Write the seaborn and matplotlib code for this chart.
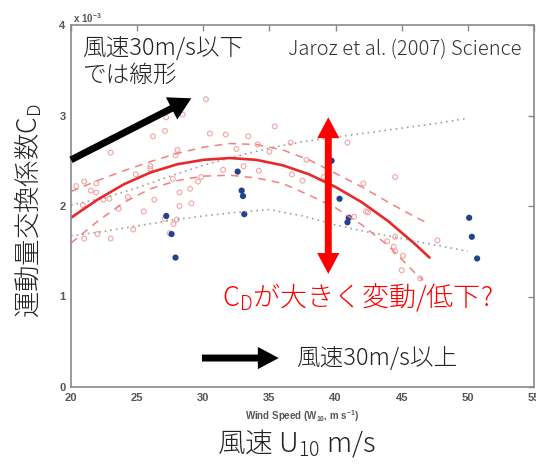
import matplotlib
matplotlib.use('Agg')
import matplotlib.pyplot as plt
import seaborn as sns
import pandas as pd

# Cd values are in units of 10^-3 (as on the axis)
red_wind = [30.2, 28.45, 27.2, 27.1, 26.2, 30.5, 31.7, 33.4,
            23.0, 28.05, 32.5, 27.9, 26.0, 26.0, 24.9, 31.5, 33.05, 34.2,
            20.4, 21.0, 21.9, 21.5, 21.9, 27.7, 29.85, 29.6, 29.0, 28.2,
            22.9, 22.45, 24.3, 26.3, 29.1, 28.2, 20.9, 23.6, 25.5, 28.0, 27.75, 24.7,
            22.0, 21.0, 23.0, 27.45, 27.1, 35.4, 34.1, 35.0, 36.6, 37.8,
            36.7, 37.5, 39.1, 40.9, 42.1, 44.5, 41.4, 42.3, 42.45, 44.5, 43.9,
            44.4, 44.5, 45.1, 45.0, 47.7, 46.4]
red_cd = [3.18, 3.01, 2.98, 2.83, 2.77, 2.80, 2.79, 2.77,
          2.59, 2.62, 2.63, 2.56, 2.44, 2.41, 2.35, 2.40, 2.44, 2.39,
          2.22, 2.27, 2.25, 2.17, 2.15, 2.30, 2.32, 2.27, 2.19, 2.15,
          2.08, 2.07, 2.10, 2.07, 2.03, 2.00, 2.01, 1.97, 1.94, 1.85, 1.80, 1.74,
          1.69, 1.64, 1.64, 1.70, 1.86, 2.88, 2.68, 2.60, 2.70, 2.51,
          2.35, 2.28, 2.32, 2.70, 2.25, 2.32, 1.88, 1.94, 1.93, 1.66, 1.61,
          1.55, 1.50, 1.45, 1.29, 1.62, 1.20]

blue_wind = [27.2, 27.6, 27.9, 32.6, 32.9, 33.0, 33.1, 39.7, 40.3, 41.0, 40.9, 50.1, 50.3, 50.7]
blue_cd = [1.89, 1.69, 1.43, 2.38, 2.17, 2.11, 1.91, 2.50, 2.08, 1.87, 1.82, 1.87, 1.66, 1.42]

# fit curve and its confidence lines
fit_wind = [20, 22, 24, 26, 28, 30, 32, 34, 36, 38, 40, 42, 44, 46, 47.1]
fit_cd = [1.87, 2.07, 2.24, 2.37, 2.46, 2.51, 2.53, 2.51, 2.45, 2.35, 2.21, 2.04, 1.83, 1.58, 1.43]
hi_wind = [20, 22, 24, 26, 28, 30, 32, 34, 36, 38, 40, 42, 44, 46, 47.1]
hi_cd = [2.16, 2.28, 2.39, 2.49, 2.58, 2.65, 2.69, 2.68, 2.62, 2.51, 2.36, 2.21, 2.04, 1.88, 1.80]
lo_wind = [20, 22, 24, 26, 28, 30, 32, 34, 36, 38, 40, 42, 44, 46, 46.6]
lo_cd = [1.59, 1.83, 2.04, 2.19, 2.28, 2.33, 2.34, 2.31, 2.25, 2.12, 1.98, 1.79, 1.56, 1.26, 1.18]

dot_wind = [20, 22.5, 25, 27.5, 30, 32.5, 35, 37.5, 40, 42.5, 45, 47.5, 50]
dot_hi_cd = [2.01, 2.09, 2.20, 2.33, 2.45, 2.55, 2.64, 2.71, 2.76, 2.81, 2.86, 2.91, 2.97]
dot_lo_cd = [1.67, 1.72, 1.78, 1.84, 1.89, 1.93, 1.96, 1.89, 1.79, 1.71, 1.64, 1.57, 1.50]

x_ticks = [20, 25, 30, 35, 40, 45, 50, 55]
y_ticks = [0, 1, 2, 3, 4]

sns.set_theme(style='white')
plt.rcParams['font.family'] = ['Noto Sans CJK JP', 'DejaVu Sans']
plt.rcParams['mathtext.default'] = 'regular'

W, H = 536, 466
fig = plt.figure(figsize=(W / 100, H / 100), dpi=100)
ax = fig.add_axes([71 / W, 1 - 387 / H, (534 - 71) / W, (387 - 25) / H])

def px(x, y):
    return x / W, 1 - y / H

gray = '#8a8a8a'

# dotted envelopes
sns.lineplot(x=dot_wind, y=dot_hi_cd, color='#a0a0a0', lw=1.2, linestyle=(0, (1, 2.4)), ax=ax)
sns.lineplot(x=dot_wind, y=dot_lo_cd, color='#a0a0a0', lw=1.2, linestyle=(0, (1, 2.4)), ax=ax)

sns.scatterplot(x=red_wind, y=red_cd, marker='o', s=12, facecolor='none',
                edgecolor='#f4a4a4', linewidth=0.8, ax=ax)

sns.lineplot(x=hi_wind, y=hi_cd, color='#f28080', lw=1.1, linestyle=(0, (5, 4)), ax=ax)
sns.lineplot(x=lo_wind, y=lo_cd, color='#f28080', lw=1.1, linestyle=(0, (5, 4)), ax=ax)
sns.lineplot(x=fit_wind, y=fit_cd, color='#e8292b', lw=1.9, ax=ax)

sns.scatterplot(x=blue_wind, y=blue_cd, marker='o', s=20, color='#23418f',
                edgecolor='none', ax=ax)

ax.set_xlim(20, 55)
ax.set_ylim(0, 4)
ax.set_xticks(x_ticks)
ax.set_yticks(y_ticks)
tick_font = dict(family=['Liberation Sans', 'DejaVu Sans'], weight='bold', size=8)
ax.set_xticklabels([str(t) for t in x_ticks], color='#555555', **tick_font)
ax.set_yticklabels([str(t) for t in y_ticks], color='#555555', **tick_font)
ax.tick_params(direction='in', length=4, width=1, color=gray, top=True, right=True,
               pad=4, labeltop=False, labelright=False)
for s in ax.spines.values():
    s.set_visible(True)
    s.set_color(gray)
    s.set_linewidth(1.2)
ax.set_xlabel('')
ax.set_ylabel('')

# arrows
def arrow(x0, y0, x1, y1, color, hw=1.6, hl=1.5):
    ax.annotate('', xy=(x1, y1), xytext=(x0, y0), annotation_clip=False,
                arrowprops=dict(arrowstyle=f'simple,head_width={hw},head_length={hl},tail_width=0.5',
                                fc=color, ec='none', mutation_scale=10, shrinkA=0, shrinkB=0))

arrow(20.0, 2.51, 29.1, 3.19, 'black', 1.8, 1.6)
arrow(29.9, 0.32, 35.7, 0.32, 'black')
arrow(39.45, 2.1, 39.45, 2.98, '#ff0000')
arrow(39.45, 2.1, 39.45, 1.25, '#ff0000')

# texts
jp = dict(color='#222222', weight='light')
fig.text(*px(82, 36), '風速30m/s以下\nでは線形', fontsize=17, va='top', ha='left',
         linespacing=1.1, **jp)
fig.text(*px(521, 50), 'Jaroz et al. (2007) Science', fontsize=14.5, color='#333333',
         weight='light', va='center', ha='right')
fig.text(*px(222, 297), 'C$_D$が大きく変動/低下?', fontsize=19.5, color='#ff0000',
         weight='light', va='center', ha='left')
fig.text(*px(296, 359), '風速30m/s以上', fontsize=17, va='center', ha='left', **jp)
fig.text(*px(28, 211), '運動量交換係数C$_D$', fontsize=19, rotation=90,
         va='center', ha='center', **jp)
fig.text(*px(296, 443), '風速 U$_{10}$ m/s', fontsize=20, va='center', ha='center', **jp)
fig.text(*px(73, 18), 'x 10$^{-3}$', fontsize=7, color='#555555', weight='bold',
         family=['Liberation Sans', 'DejaVu Sans'], va='center', ha='left')
fig.text(*px(302, 416), 'Wind Speed (W$_{10}$, m s$^{-1}$)', fontsize=7, color='#555555',
         weight='bold', family=['Liberation Sans', 'DejaVu Sans'], va='center', ha='center')

fig.savefig('out.png', dpi=100)
